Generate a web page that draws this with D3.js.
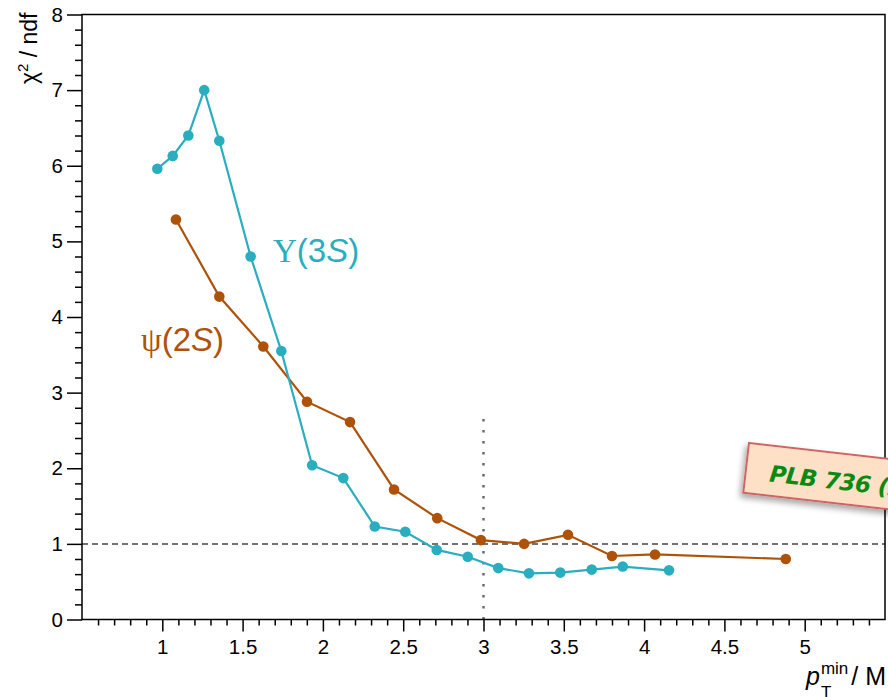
<!DOCTYPE html>
<html>
<head>
<meta charset="utf-8">
<script src="https://cdn.jsdelivr.net/npm/d3@7"></script>
<style>
  html, body { margin: 0; padding: 0; background: #fff; overflow: hidden; }
  svg { display: block; }
</style>
</head>
<body>
<svg id="chart" width="888" height="697"></svg>
<script>
// chi2/ndf of the pT/M scaling fit versus the minimum pT/M threshold
const upsilonX = [0.969, 1.065, 1.162, 1.261, 1.355, 1.550, 1.741, 1.933, 2.127, 2.323,
                  2.513, 2.709, 2.902, 3.092, 3.283, 3.478, 3.674, 3.867, 4.155];
const upsilonY = [5.96, 6.13, 6.40, 7.00, 6.33, 4.80, 3.55, 2.04, 1.87, 1.23,
                  1.16, 0.92, 0.83, 0.68, 0.61, 0.62, 0.66, 0.70, 0.65];
const psiX = [1.085, 1.355, 1.629, 1.901, 2.169, 2.443, 2.712, 2.984, 3.253, 3.526, 3.800, 4.068, 4.882];
const psiY = [5.29, 4.27, 3.61, 2.88, 2.61, 1.72, 1.34, 1.05, 1.00, 1.12, 0.84, 0.86, 0.80];

const xMajorTicks = [1, 1.5, 2, 2.5, 3, 3.5, 4, 4.5, 5];
const yMajorTicks = [0, 1, 2, 3, 4, 5, 6, 7, 8];
const referenceChi2 = 1;      // horizontal dashed line
const thresholdX = 3;         // vertical dotted line
const thresholdTop = 2.68;

const teal = "#2aadbe";
const brown = "#ae5209";

const svg = d3.select("#chart");
const plotLeft = 82, plotRight = 885, plotTop = 14.5, plotBottom = 619.5;

const x = d3.scaleLinear().domain([0.5, 5.5]).range([plotLeft, plotRight]);
const y = d3.scaleLinear().domain([0, 8]).range([plotBottom, plotTop]);

const fontFam = "'Liberation Sans', Arial, Helvetica, sans-serif";

// drop shadow for the reference tag
const defs = svg.append("defs");
const f = defs.append("filter").attr("id", "shadow").attr("x", "-20%").attr("y", "-30%")
  .attr("width", "140%").attr("height", "180%");
f.append("feDropShadow").attr("dx", -2).attr("dy", 4).attr("stdDeviation", 3)
  .attr("flood-color", "#000").attr("flood-opacity", 0.35);

// reference lines
svg.append("line")
  .attr("x1", x(0.5)).attr("x2", x(5.5))
  .attr("y1", y(referenceChi2)).attr("y2", y(referenceChi2))
  .attr("stroke", "#444").attr("stroke-width", 1.5).attr("stroke-dasharray", "6,4");
svg.append("line")
  .attr("x1", x(thresholdX)).attr("x2", x(thresholdX))
  .attr("y1", y(0)).attr("y2", y(thresholdTop))
  .attr("stroke", "#666").attr("stroke-width", 2.4).attr("stroke-dasharray", "2.4,8.6");

// series
function drawSeries(xs, ys, color) {
  const pts = xs.map((v, i) => [v, ys[i]]);
  svg.append("path")
    .datum(pts)
    .attr("fill", "none")
    .attr("stroke", color)
    .attr("stroke-width", 2.2)
    .attr("d", d3.line().x(d => x(d[0])).y(d => y(d[1])));
  svg.append("g").selectAll("circle").data(pts).join("circle")
    .attr("cx", d => x(d[0])).attr("cy", d => y(d[1])).attr("r", 5.3)
    .attr("fill", color);
}
drawSeries(psiX, psiY, brown);
drawSeries(upsilonX, upsilonY, teal);

// axes
const xMinor = d3.range(6, 55).map(v => v / 10).filter(v => Math.abs(v * 2 - Math.round(v * 2)) > 1e-6);
const yMinor = d3.range(1, 40).map(v => v / 5).filter(v => Math.abs(v - Math.round(v)) > 1e-6);

const xAxisMinor = d3.axisBottom(x).tickValues(xMinor).tickSize(6).tickFormat("");
const xAxisMajor = d3.axisBottom(x).tickValues(xMajorTicks).tickSize(12).tickPadding(8)
  .tickFormat(d => d3.format("")(d));
const yAxisMinor = d3.axisLeft(y).tickValues(yMinor).tickSize(7).tickFormat("");
const yAxisMajor = d3.axisLeft(y).tickValues(yMajorTicks).tickSize(15).tickPadding(4);

function styleAxis(g) {
  g.select(".domain").remove();
  g.selectAll(".tick line").attr("stroke", "#000").attr("stroke-width", 1.5);
  g.selectAll(".tick text").attr("fill", "#000").style("font-family", fontFam).style("font-size", "20.5px");
}
svg.append("g").attr("transform", `translate(0,${plotBottom})`).call(xAxisMinor).call(styleAxis);
svg.append("g").attr("transform", `translate(0,${plotBottom})`).call(xAxisMajor).call(styleAxis);
svg.append("g").attr("transform", `translate(${plotLeft},0)`).call(yAxisMinor).call(styleAxis);
svg.append("g").attr("transform", `translate(${plotLeft},0)`).call(yAxisMajor).call(styleAxis);

// frame
svg.append("rect")
  .attr("x", plotLeft).attr("y", plotTop).attr("width", plotRight - plotLeft).attr("height", plotBottom - plotTop)
  .attr("fill", "none").attr("stroke", "#000").attr("stroke-width", 1.5);

// axis titles
const yt = svg.append("text")
  .attr("transform", `translate(37,${plotTop - 2}) rotate(-90)`)
  .attr("text-anchor", "end")
  .style("font-family", fontFam).style("font-size", "23px").attr("fill", "#000");
yt.append("tspan").text("χ");
yt.append("tspan").attr("dy", -9).style("font-size", "15px").text("2");
yt.append("tspan").attr("dy", 9).text(" / ndf");

const xt = svg.append("text")
  .attr("x", 806).attr("y", 685)
  .style("font-family", fontFam).style("font-size", "25px").attr("fill", "#000");
xt.append("tspan").style("font-style", "italic").text("p");
xt.append("tspan").attr("dy", -11).attr("dx", 1).style("font-size", "17px").text("min");
svg.append("text").attr("x", 821).attr("y", 698)
  .style("font-family", fontFam).style("font-size", "17px").attr("fill", "#000").text("T");
xt.append("tspan").attr("dy", 11).attr("dx", 3).text("/ M");

// series labels
const lu = svg.append("text").attr("x", 273).attr("y", 262)
  .style("font-family", fontFam).style("font-size", "33px").attr("fill", teal);
lu.append("tspan").style("font-family", "'Liberation Serif', 'Times New Roman', serif").text("Υ");
lu.append("tspan").text("(3");
lu.append("tspan").style("font-style", "italic").text("S");
lu.append("tspan").text(")");

const lp = svg.append("text").attr("x", 141).attr("y", 351)
  .style("font-family", fontFam).style("font-size", "33px").attr("fill", brown);
lp.append("tspan").style("font-family", "'Liberation Serif', 'Times New Roman', serif").text("ψ");
lp.append("tspan").text("(2");
lp.append("tspan").style("font-style", "italic").text("S");
lp.append("tspan").text(")");

// publication tag
const tag = svg.append("g").attr("transform", "translate(749,443) rotate(6.5)");
tag.append("rect")
  .attr("x", 0).attr("y", 0).attr("width", 300).attr("height", 50)
  .attr("fill", "#fde0c6").attr("stroke", "#d06464").attr("stroke-width", 2)
  .attr("filter", "url(#shadow)");
tag.append("text").attr("x", 24).attr("y", 36)
  .style("font-family", "'DejaVu Sans', sans-serif").style("font-style", "italic")
  .style("font-weight", "bold").style("font-size", "23px").attr("letter-spacing", "-0.5")
  .attr("fill", "#0a8a12")
  .text("PLB 736 (2014) 98");
</script>
</body>
</html>
